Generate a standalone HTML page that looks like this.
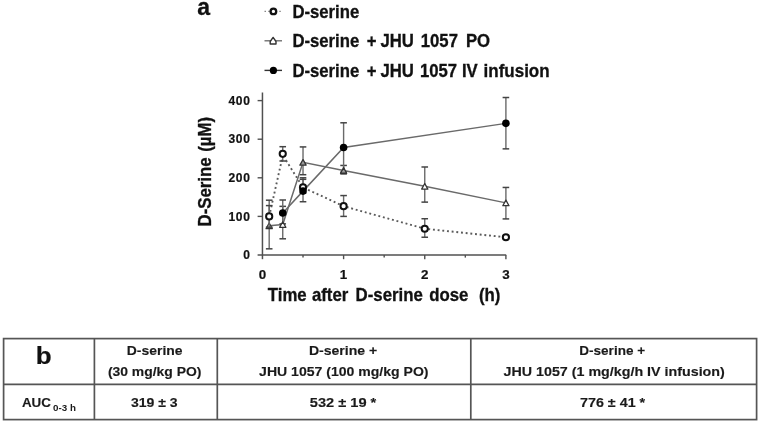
<!DOCTYPE html>
<html><head><meta charset="utf-8"><style>
html,body{margin:0;padding:0;background:#fff;width:759px;height:422px;overflow:hidden}
svg{display:block;filter:blur(0.45px)}
text{font-family:"Liberation Sans",sans-serif;fill:#111}
.tk{font-size:12px;font-weight:bold;letter-spacing:0.8px;stroke:#111;stroke-width:0.2px}
.tkx{font-size:13.4px;font-weight:bold;stroke:#111;stroke-width:0.2px}
.at{font-size:16.8px;font-weight:bold;stroke:#111;stroke-width:0.3px}
.lg{font-size:16.7px;font-weight:bold;stroke:#111;stroke-width:0.3px}
.pa{font-size:23px;font-weight:bold;stroke:#111;stroke-width:0.3px}
.pb{font-size:23px;font-weight:bold;stroke:#111;stroke-width:0.2px}
.tb{font-size:13px;font-weight:bold;fill:#1a1a1a;stroke:#1a1a1a;stroke-width:0.15px}
.sub{font-size:9px;font-weight:bold;fill:#1a1a1a}
</style></head><body>
<svg width="759" height="422" viewBox="0 0 759 422">
<line x1="262.45" y1="92.5" x2="262.45" y2="259.2" stroke="#505050" stroke-width="1.5"/>
<line x1="257.6" y1="255.0" x2="506.2" y2="255.0" stroke="#505050" stroke-width="1.5"/>
<line x1="257.6" y1="216.40" x2="262.45" y2="216.40" stroke="#505050" stroke-width="1.4"/>
<line x1="257.6" y1="177.80" x2="262.45" y2="177.80" stroke="#505050" stroke-width="1.4"/>
<line x1="257.6" y1="139.20" x2="262.45" y2="139.20" stroke="#505050" stroke-width="1.4"/>
<line x1="257.6" y1="100.60" x2="262.45" y2="100.60" stroke="#505050" stroke-width="1.4"/>
<line x1="343.60" y1="255.0" x2="343.60" y2="259.2" stroke="#505050" stroke-width="1.4"/>
<line x1="424.75" y1="255.0" x2="424.75" y2="259.2" stroke="#505050" stroke-width="1.4"/>
<line x1="505.90" y1="255.0" x2="505.90" y2="259.2" stroke="#505050" stroke-width="1.4"/>
<line x1="303.02" y1="255.0" x2="303.02" y2="257.6" stroke="#505050" stroke-width="1.4"/>
<line x1="384.18" y1="255.0" x2="384.18" y2="257.6" stroke="#505050" stroke-width="1.4"/>
<line x1="465.32" y1="255.0" x2="465.32" y2="257.6" stroke="#505050" stroke-width="1.4"/>
<text x="250.8" y="259.10" text-anchor="end" class="tk">0</text>
<text x="250.8" y="220.50" text-anchor="end" class="tk">100</text>
<text x="250.8" y="181.90" text-anchor="end" class="tk">200</text>
<text x="250.8" y="143.30" text-anchor="end" class="tk">300</text>
<text x="250.8" y="104.70" text-anchor="end" class="tk">400</text>
<text x="262.45" y="279.2" text-anchor="middle" class="tkx">0</text>
<text x="343.60" y="279.2" text-anchor="middle" class="tkx">1</text>
<text x="424.75" y="279.2" text-anchor="middle" class="tkx">2</text>
<text x="505.90" y="279.2" text-anchor="middle" class="tkx">3</text>
<text transform="translate(210.9,0) rotate(-90) scale(1,1.07)" class="at"><tspan x="-226.4">D-Serine</tspan><tspan x="-151.8">(µM)</tspan></text>
<text transform="translate(0,300.6) scale(1,1.07)" y="0" class="at"><tspan x="267.80">Time</tspan><tspan x="311.90">after</tspan><tspan x="355.60">D-serine</tspan><tspan x="429.20">dose</tspan><tspan x="478.90">(h)</tspan></text>
<polyline points="269.19,225.86 282.74,224.51 303.02,162.36 343.60,170.47 424.75,186.29 505.90,202.89" fill="none" stroke="#6a6a6a" stroke-width="1.5" />
<polyline points="282.74,213.00 303.02,191.12 343.60,147.50 505.90,123.37" fill="none" stroke="#6a6a6a" stroke-width="1.5" />
<polyline points="269.19,216.40 281.60,160.80 286.30,160.80 303.02,187.45 343.60,206.17 424.75,228.75 505.90,237.24" fill="none" stroke="#5a5a5a" stroke-width="1.9" stroke-dasharray="1.9 2.8"/>
<line x1="269.19" y1="200.19" x2="269.19" y2="248.82" stroke="#6a6a6a" stroke-width="1.4"/>
<line x1="265.89" y1="200.19" x2="272.49" y2="200.19" stroke="#444" stroke-width="1.5"/>
<line x1="265.89" y1="248.82" x2="272.49" y2="248.82" stroke="#444" stroke-width="1.5"/>
<line x1="282.74" y1="206.36" x2="282.74" y2="238.79" stroke="#6a6a6a" stroke-width="1.4"/>
<line x1="279.44" y1="206.36" x2="286.04" y2="206.36" stroke="#444" stroke-width="1.5"/>
<line x1="279.44" y1="238.79" x2="286.04" y2="238.79" stroke="#444" stroke-width="1.5"/>
<line x1="303.02" y1="146.92" x2="303.02" y2="174.71" stroke="#6a6a6a" stroke-width="1.4"/>
<line x1="299.72" y1="146.92" x2="306.32" y2="146.92" stroke="#444" stroke-width="1.5"/>
<line x1="299.72" y1="174.71" x2="306.32" y2="174.71" stroke="#444" stroke-width="1.5"/>
<line x1="343.60" y1="165.45" x2="343.60" y2="173.94" stroke="#6a6a6a" stroke-width="1.4"/>
<line x1="340.30" y1="165.45" x2="346.90" y2="165.45" stroke="#444" stroke-width="1.5"/>
<line x1="340.30" y1="173.94" x2="346.90" y2="173.94" stroke="#444" stroke-width="1.5"/>
<line x1="424.75" y1="166.99" x2="424.75" y2="202.12" stroke="#6a6a6a" stroke-width="1.4"/>
<line x1="421.45" y1="166.99" x2="428.05" y2="166.99" stroke="#444" stroke-width="1.5"/>
<line x1="421.45" y1="202.12" x2="428.05" y2="202.12" stroke="#444" stroke-width="1.5"/>
<line x1="505.90" y1="187.45" x2="505.90" y2="218.91" stroke="#6a6a6a" stroke-width="1.4"/>
<line x1="502.60" y1="187.45" x2="509.20" y2="187.45" stroke="#444" stroke-width="1.5"/>
<line x1="502.60" y1="218.91" x2="509.20" y2="218.91" stroke="#444" stroke-width="1.5"/>
<line x1="282.74" y1="200.00" x2="282.74" y2="223.89" stroke="#6a6a6a" stroke-width="1.4"/>
<line x1="279.44" y1="200.00" x2="286.04" y2="200.00" stroke="#444" stroke-width="1.5"/>
<line x1="279.44" y1="223.89" x2="286.04" y2="223.89" stroke="#444" stroke-width="1.5"/>
<line x1="303.02" y1="177.80" x2="303.02" y2="201.73" stroke="#6a6a6a" stroke-width="1.4"/>
<line x1="299.72" y1="177.80" x2="306.32" y2="177.80" stroke="#444" stroke-width="1.5"/>
<line x1="299.72" y1="201.73" x2="306.32" y2="201.73" stroke="#444" stroke-width="1.5"/>
<line x1="343.60" y1="122.79" x2="343.60" y2="172.20" stroke="#6a6a6a" stroke-width="1.4"/>
<line x1="340.30" y1="122.79" x2="346.90" y2="122.79" stroke="#444" stroke-width="1.5"/>
<line x1="340.30" y1="172.20" x2="346.90" y2="172.20" stroke="#444" stroke-width="1.5"/>
<line x1="505.90" y1="97.51" x2="505.90" y2="148.85" stroke="#6a6a6a" stroke-width="1.4"/>
<line x1="502.60" y1="97.51" x2="509.20" y2="97.51" stroke="#444" stroke-width="1.5"/>
<line x1="502.60" y1="148.85" x2="509.20" y2="148.85" stroke="#444" stroke-width="1.5"/>
<polygon points="269.19,223.06 272.29,228.66 266.09,228.66" fill="#fff" stroke="#333" stroke-width="1.3" stroke-linejoin="round"/>
<polygon points="282.74,221.71 285.84,227.31 279.64,227.31" fill="#fff" stroke="#333" stroke-width="1.3" stroke-linejoin="round"/>
<polygon points="303.02,159.56 306.12,165.16 299.92,165.16" fill="#9a9a9a" stroke="#333" stroke-width="1.3" stroke-linejoin="round"/>
<polygon points="343.60,167.67 346.70,173.27 340.50,173.27" fill="#9a9a9a" stroke="#333" stroke-width="1.3" stroke-linejoin="round"/>
<polygon points="424.75,183.49 427.85,189.09 421.65,189.09" fill="#fff" stroke="#333" stroke-width="1.3" stroke-linejoin="round"/>
<polygon points="505.90,200.09 509.00,205.69 502.80,205.69" fill="#fff" stroke="#333" stroke-width="1.3" stroke-linejoin="round"/>
<line x1="269.19" y1="205.59" x2="269.19" y2="227.21" stroke="#6a6a6a" stroke-width="1.4"/>
<line x1="265.89" y1="205.59" x2="272.49" y2="205.59" stroke="#444" stroke-width="1.5"/>
<line x1="265.89" y1="227.21" x2="272.49" y2="227.21" stroke="#444" stroke-width="1.5"/>
<line x1="282.74" y1="146.69" x2="282.74" y2="161.01" stroke="#6a6a6a" stroke-width="1.4"/>
<line x1="279.44" y1="146.69" x2="286.04" y2="146.69" stroke="#444" stroke-width="1.5"/>
<line x1="279.44" y1="161.01" x2="286.04" y2="161.01" stroke="#444" stroke-width="1.5"/>
<line x1="303.02" y1="179.34" x2="303.02" y2="193.24" stroke="#6a6a6a" stroke-width="1.4"/>
<line x1="299.72" y1="179.34" x2="306.32" y2="179.34" stroke="#444" stroke-width="1.5"/>
<line x1="299.72" y1="193.24" x2="306.32" y2="193.24" stroke="#444" stroke-width="1.5"/>
<line x1="343.60" y1="195.56" x2="343.60" y2="216.40" stroke="#6a6a6a" stroke-width="1.4"/>
<line x1="340.30" y1="195.56" x2="346.90" y2="195.56" stroke="#444" stroke-width="1.5"/>
<line x1="340.30" y1="216.40" x2="346.90" y2="216.40" stroke="#444" stroke-width="1.5"/>
<line x1="424.75" y1="218.72" x2="424.75" y2="237.24" stroke="#6a6a6a" stroke-width="1.4"/>
<line x1="421.45" y1="218.72" x2="428.05" y2="218.72" stroke="#444" stroke-width="1.5"/>
<line x1="421.45" y1="237.24" x2="428.05" y2="237.24" stroke="#444" stroke-width="1.5"/>
<line x1="505.90" y1="236.09" x2="505.90" y2="238.40" stroke="#6a6a6a" stroke-width="1.4"/>
<line x1="502.60" y1="236.09" x2="509.20" y2="236.09" stroke="#444" stroke-width="1.5"/>
<line x1="502.60" y1="238.40" x2="509.20" y2="238.40" stroke="#444" stroke-width="1.5"/>
<circle cx="269.19" cy="216.40" r="3.1" fill="#fff" stroke="#111" stroke-width="2.0"/>
<circle cx="282.74" cy="153.87" r="3.1" fill="#fff" stroke="#111" stroke-width="2.0"/>
<circle cx="303.02" cy="187.45" r="3.1" fill="#fff" stroke="#111" stroke-width="2.0"/>
<circle cx="343.60" cy="206.17" r="3.1" fill="#fff" stroke="#111" stroke-width="2.0"/>
<circle cx="424.75" cy="228.75" r="3.1" fill="#fff" stroke="#111" stroke-width="2.0"/>
<circle cx="505.90" cy="237.24" r="3.1" fill="#fff" stroke="#111" stroke-width="2.0"/>
<circle cx="282.74" cy="213.00" r="3.8" fill="#000"/>
<circle cx="303.02" cy="191.12" r="3.8" fill="#000"/>
<circle cx="343.60" cy="147.50" r="3.8" fill="#000"/>
<circle cx="505.90" cy="123.37" r="3.8" fill="#000"/>
<text x="197.3" y="14.6" class="pa">a</text>
<line x1="264.5" y1="11.4" x2="282" y2="11.4" stroke="#888" stroke-width="1.3" stroke-dasharray="1.5 2.2"/>
<circle cx="273.4" cy="11.4" r="2.8" fill="#fff" stroke="#111" stroke-width="2.3"/>
<line x1="264.5" y1="40.8" x2="282" y2="40.8" stroke="#666" stroke-width="1.3"/>
<polygon points="273.1,37.4 276.0,41.5 276.0,44.0 270.2,44.0 270.2,41.5" fill="#fff" stroke="#333" stroke-width="1.4" stroke-linejoin="round"/>
<line x1="264.5" y1="70.4" x2="282" y2="70.4" stroke="#333" stroke-width="1.4"/>
<circle cx="273.4" cy="70.4" r="3.6" fill="#000"/>
<text transform="translate(0,18.0) scale(1,1.07)" x="292.40" y="0" class="lg">D-serine</text>
<text transform="translate(0,47.0) scale(1,1.07)" x="292.40" y="0" class="lg">D-serine</text>
<text transform="translate(0,47.0) scale(1,1.07)" x="366.80" y="0" class="lg">+</text>
<text transform="translate(0,47.0) scale(1,1.07)" x="380.40" y="0" class="lg">JHU</text>
<text transform="translate(0,47.0) scale(1,1.07)" x="420.80" y="0" class="lg">1057</text>
<text transform="translate(0,47.0) scale(1,1.07)" x="466.00" y="0" class="lg">PO</text>
<text transform="translate(0,76.7) scale(1,1.07)" x="292.40" y="0" class="lg">D-serine</text>
<text transform="translate(0,76.7) scale(1,1.07)" x="366.80" y="0" class="lg">+</text>
<text transform="translate(0,76.7) scale(1,1.07)" x="380.40" y="0" class="lg">JHU</text>
<text transform="translate(0,76.7) scale(1,1.07)" x="419.90" y="0" class="lg">1057</text>
<text transform="translate(0,76.7) scale(1,1.07)" x="461.90" y="0" class="lg">IV</text>
<text transform="translate(0,76.7) scale(1,1.07)" x="483.60" y="0" class="lg" textLength="66.0" lengthAdjust="spacingAndGlyphs">infusion</text>
<rect x="3.6" y="338.6" width="753" height="81" fill="none" stroke="#555" stroke-width="1.7"/>
<line x1="3.6" y1="384.4" x2="756.6" y2="384.4" stroke="#555" stroke-width="1.7"/>
<line x1="94.4" y1="338.6" x2="94.4" y2="419.6" stroke="#555" stroke-width="1.7"/>
<line x1="217.3" y1="338.6" x2="217.3" y2="419.6" stroke="#555" stroke-width="1.7"/>
<line x1="470.8" y1="338.6" x2="470.8" y2="419.6" stroke="#555" stroke-width="1.7"/>
<text transform="translate(43.8,363.9) scale(1.13,1)" text-anchor="middle" class="pb">b</text>
<text x="154.70" y="354.6" text-anchor="middle" textLength="55.80" lengthAdjust="spacingAndGlyphs" class="tb">D-serine</text>
<text x="154.70" y="376.0" text-anchor="middle" textLength="93.60" lengthAdjust="spacingAndGlyphs" class="tb">(30 mg/kg PO)</text>
<text x="343.10" y="354.6" text-anchor="middle" textLength="68.40" lengthAdjust="spacingAndGlyphs" class="tb">D-serine +</text>
<text x="343.80" y="376.0" text-anchor="middle" textLength="169.40" lengthAdjust="spacingAndGlyphs" class="tb">JHU 1057 (100 mg/kg PO)</text>
<text x="612.20" y="354.6" text-anchor="middle" textLength="65.80" lengthAdjust="spacingAndGlyphs" class="tb">D-serine +</text>
<text x="614.15" y="376.0" text-anchor="middle" textLength="221.30" lengthAdjust="spacingAndGlyphs" class="tb">JHU 1057 (1 mg/kg/h IV infusion)</text>
<text x="36.40" y="406.6" text-anchor="middle" textLength="29.00" lengthAdjust="spacingAndGlyphs" class="tb">AUC</text>
<text x="64.45" y="411.0" text-anchor="middle" textLength="22.90" lengthAdjust="spacingAndGlyphs" class="sub">0-3 h</text>
<text x="154.25" y="406.6" text-anchor="middle" textLength="46.70" lengthAdjust="spacingAndGlyphs" class="tb">319 ± 3</text>
<text x="343.05" y="406.6" text-anchor="middle" textLength="66.50" lengthAdjust="spacingAndGlyphs" class="tb">532 ± 19 *</text>
<text x="612.60" y="406.6" text-anchor="middle" textLength="65.20" lengthAdjust="spacingAndGlyphs" class="tb">776 ± 41 *</text>
</svg>
</body></html>
